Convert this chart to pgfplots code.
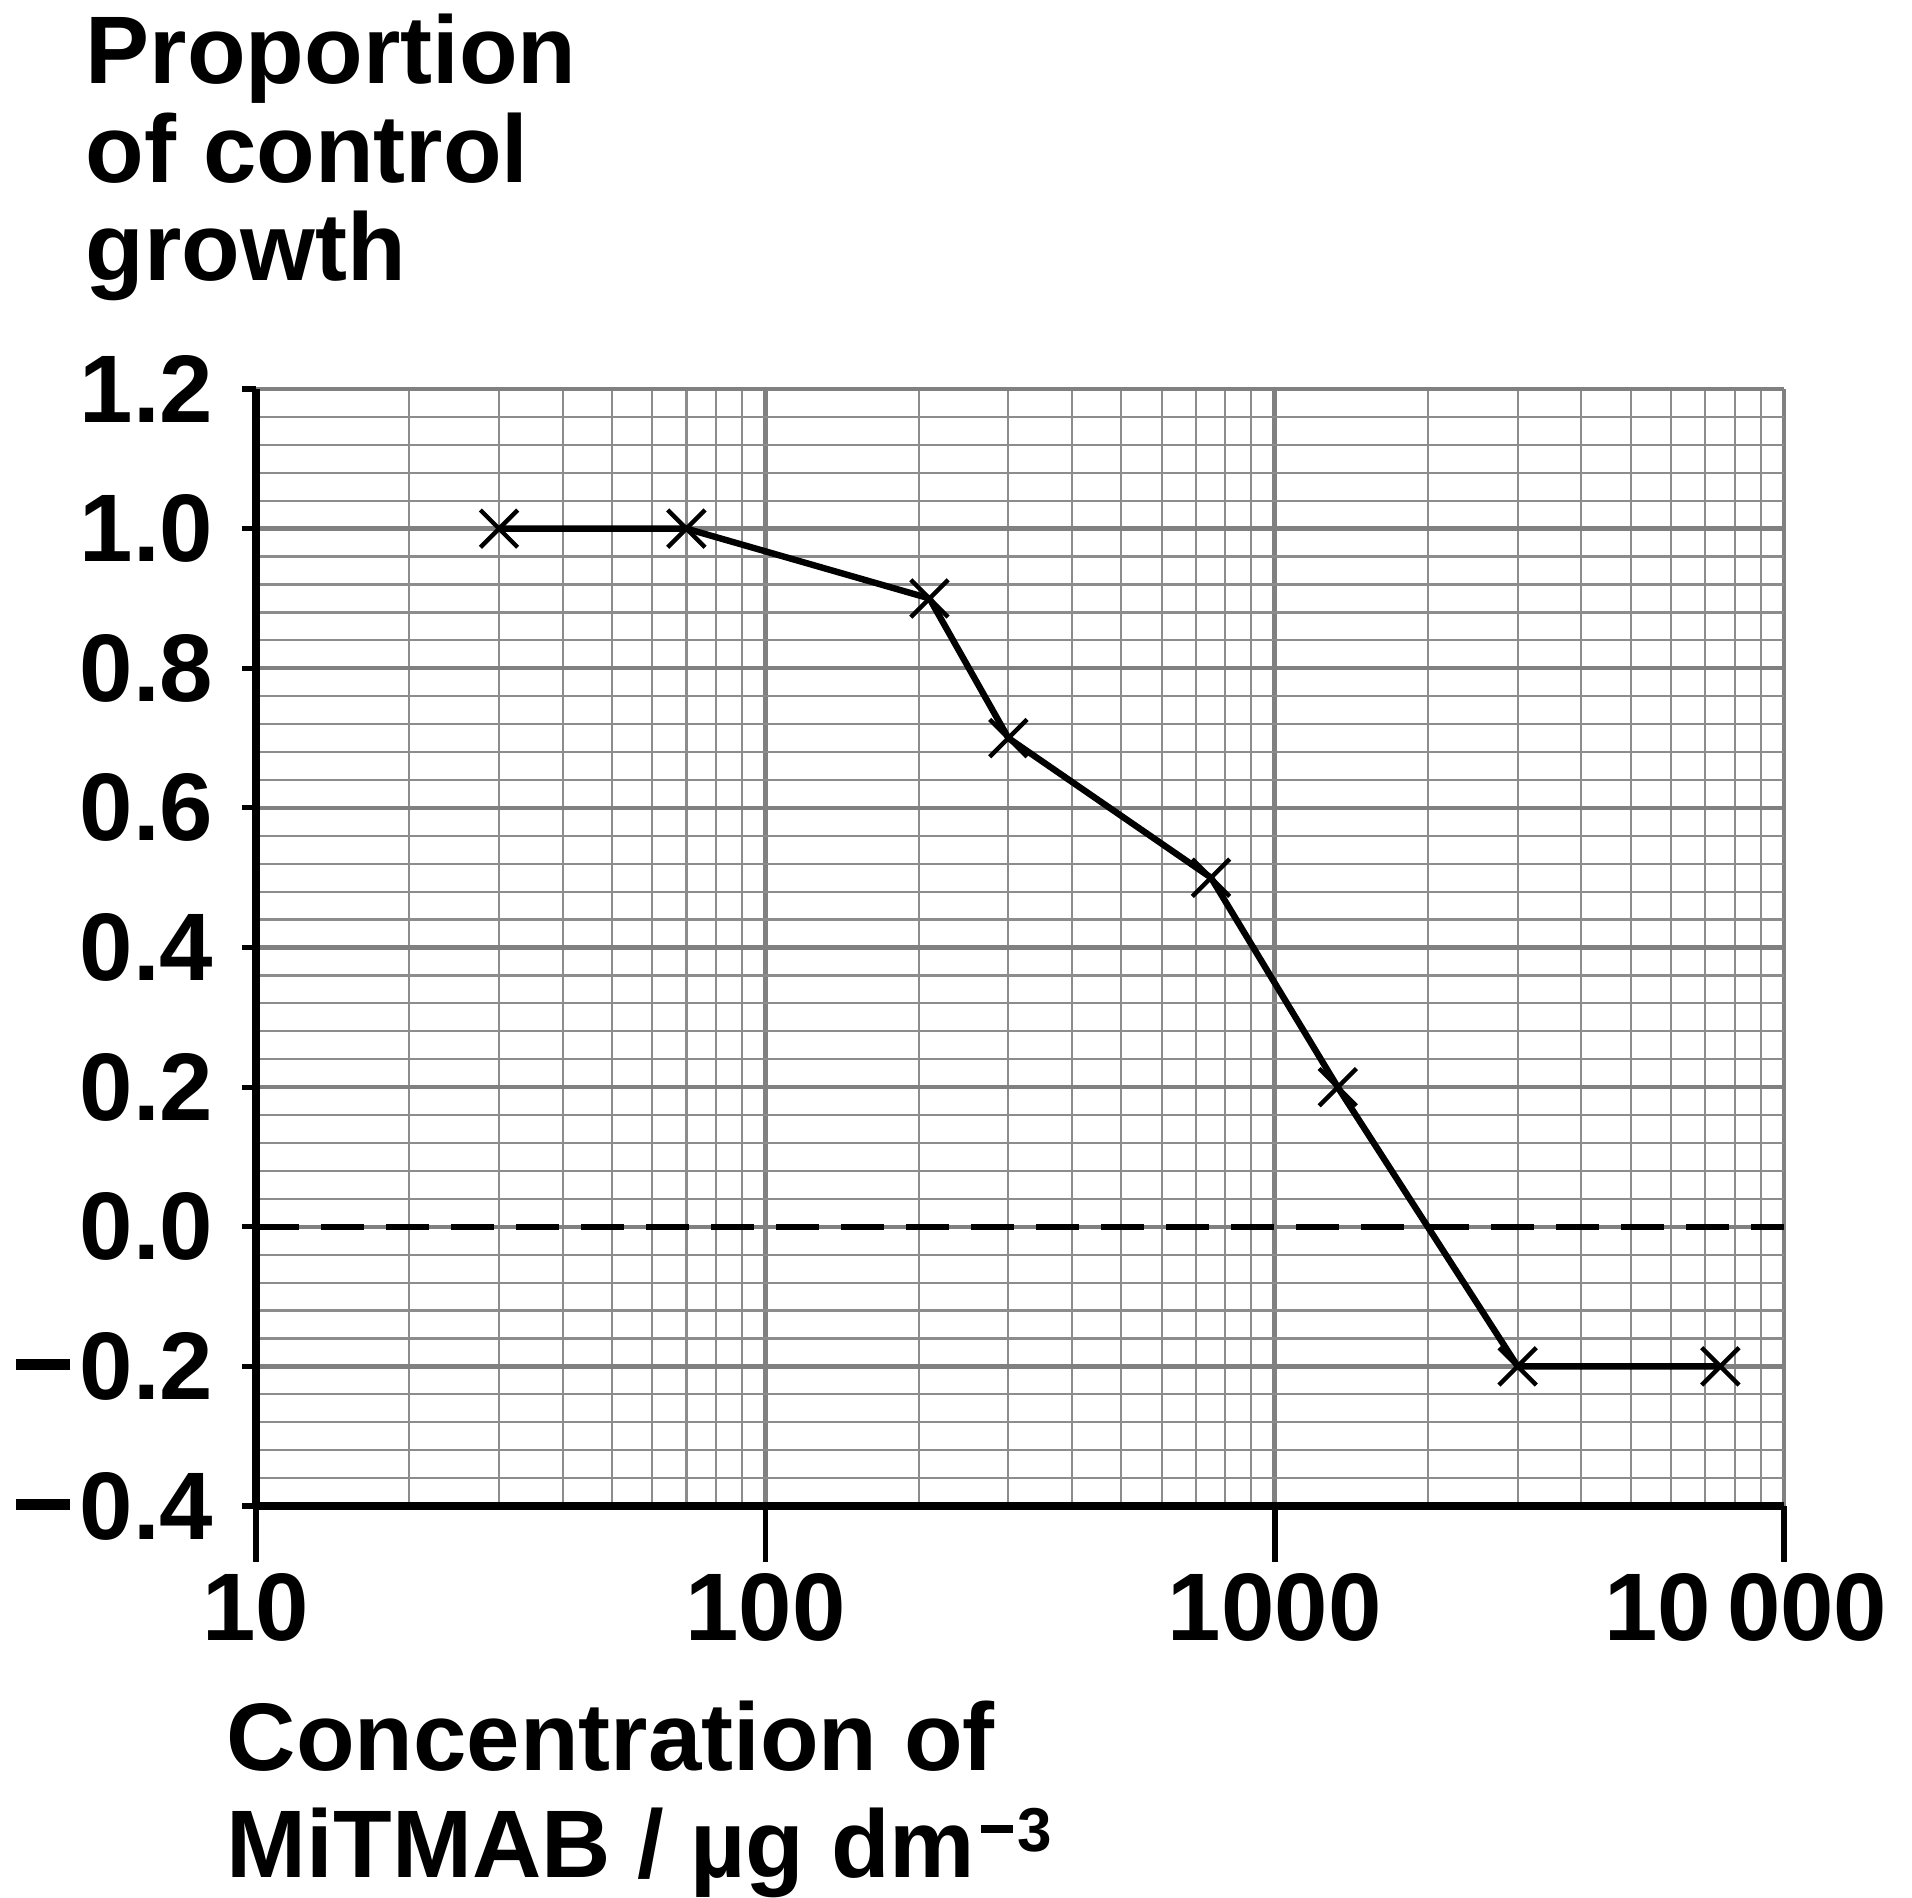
\documentclass[border=0pt]{standalone}
\usepackage{fontspec}
\setmainfont{Liberation Sans}
\usepackage{pgfplots}
\pgfplotsset{compat=1.18}
\newcommand{\negdash}{\rule[7.3pt]{13.5pt}{2.8pt}\kern2.5pt}

\begin{document}
\begin{tikzpicture}
\path[use as bounding box] (-64pt,-97.75pt) rectangle (414pt,376.5pt);
\begin{axis}[
  at={(0,0)}, anchor=south west,
  scale only axis, width=382pt, height=279.25pt,
  xmode=log, xmin=10, xmax=10000,
  ymin=-0.4, ymax=1.2,
  axis x line*=bottom, axis y line*=left,
  axis line style={line width=1.8pt, black, -},
  xtick={10,100,1000,10000},
  xticklabels={10,100,1000,{10\,000\rule{19pt}{0pt}}},
  ytick={-0.4,-0.2,0,0.2,0.4,0.6,0.8,1.0,1.2},
  yticklabels={\negdash0.4,\negdash0.2,0.0,0.2,0.4,0.6,0.8,1.0,1.2},
  minor y tick num=4,
  grid=both,
  major grid style={line width=1.1pt, black!50},
  minor grid style={line width=0.55pt, black!45},
  tick align=outside,
  major tick length=3.5pt,
  minor tick length=0pt,
  xtick style={draw=none},
  ytick style={line width=1.3pt, black},
  ticklabel style={font=\bfseries\fontsize{24}{24}\selectfont, inner sep=0pt},
  xticklabel style={yshift=-13.25pt},
  yticklabel style={xshift=-7pt},
]
% zero line
\addplot[black, line width=1.4pt, dash pattern=on 10.75pt off 5.5pt] coordinates {(10,0) (10000,0)};
% growth data
\addplot[black, line width=1.6pt, mark=x, mark size=6.6pt, mark options={line width=1.1pt, solid}]
  coordinates {(30,1.0) (70,1.0) (210,0.9) (300,0.7) (750,0.5) (1330,0.2) (3000,-0.2) (7500,-0.2)};
\end{axis}
% long ticks below the x axis
\foreach \tx in {0pt,127.33pt,254.67pt,382pt}
  \draw[line width=1.4pt, black] (\tx,0pt) -- (\tx,-14pt);
\begin{scope}[every node/.style={anchor=base west, inner sep=0pt, font=\bfseries\fontsize{24}{24}\selectfont}]
\node at (-42.75pt,355.7pt) {Proportion};
\node at (-42.75pt,330.8pt) {of control};
\node at (-42.75pt,306.25pt) {growth};
\node at (-7.5pt,-66pt) {Concentration of};
\node at (-7.5pt,-92.75pt) {MiTMAB / µg dm\kern1.5pt\raisebox{6.5pt}{\fontsize{15.5}{15.5}\selectfont\rule[4.6pt]{8pt}{1.8pt}\kern1pt3}};
\end{scope}
\end{tikzpicture}
\end{document}
